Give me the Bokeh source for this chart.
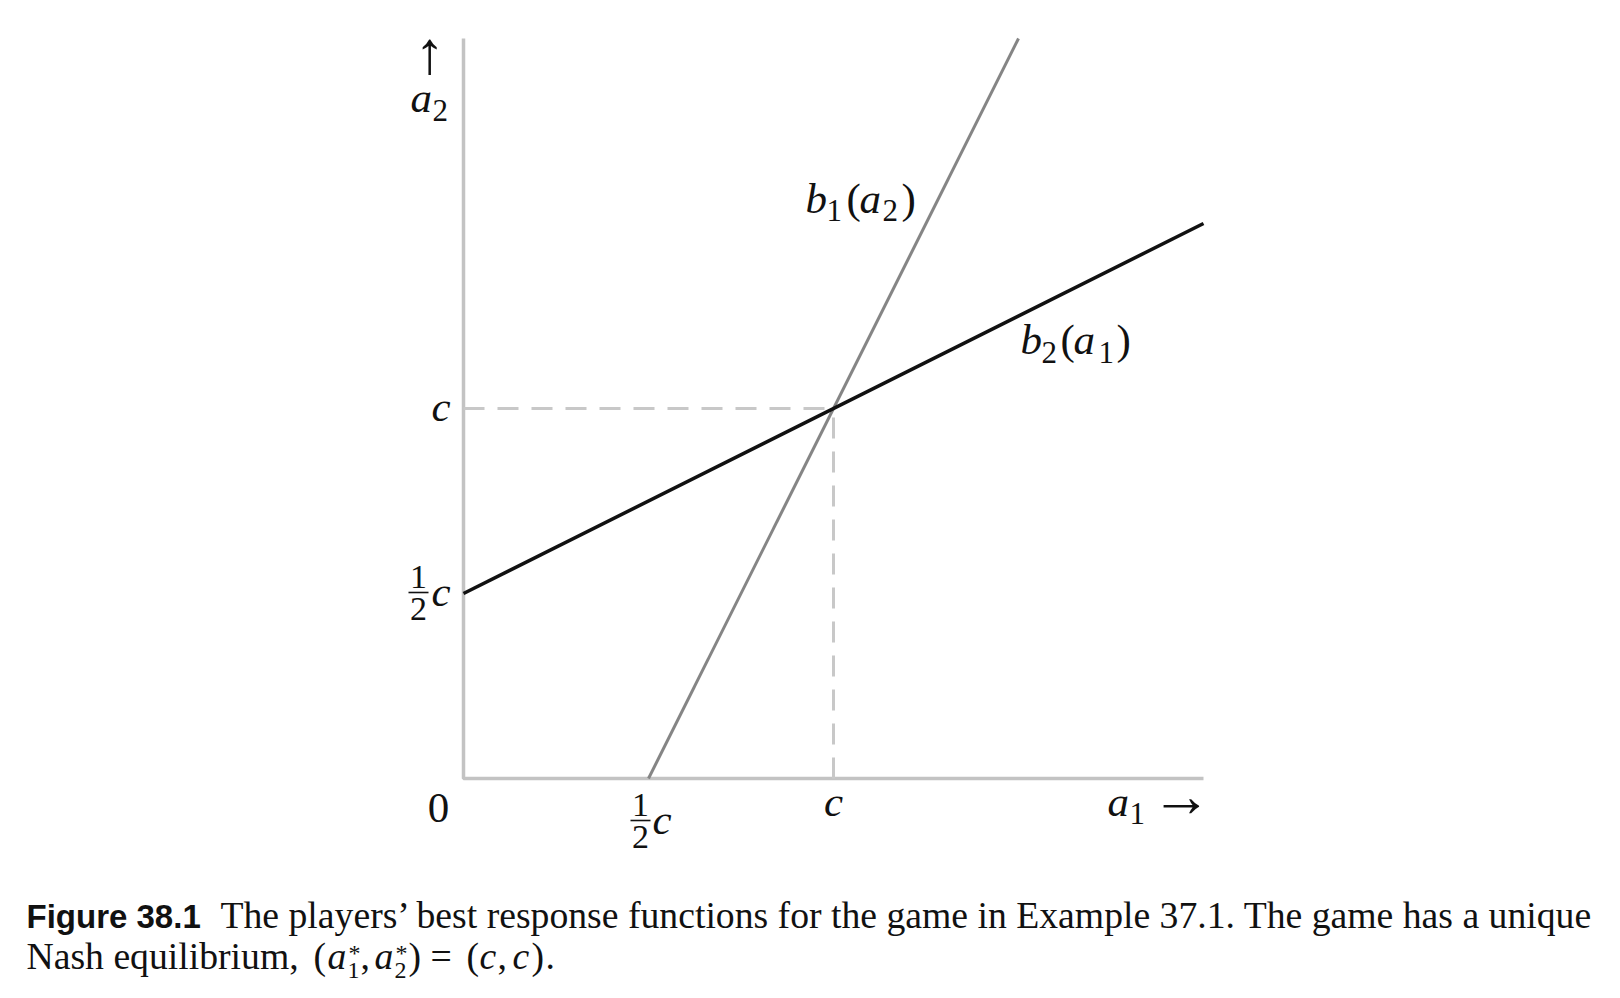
from bokeh.plotting import figure
from bokeh.models import Range1d
from bokeh.core.properties import value
from bokeh.embed import file_html
from bokeh.resources import INLINE

# ---------------- data (in units of c) ----------------
c = 1.0
axis_a1 = [0.0, 0.0, 2.0]          # L-shaped axes: top of a2 axis -> origin -> end of a1 axis
axis_a2 = [2.0, 0.0, 0.0]
b1_a1 = [0.5, 1.5]                 # b1(a2)
b1_a2 = [0.0, 2.0]
b2_a1 = [0.0, 2.0]                 # b2(a1)
b2_a2 = [0.5, 1.5]
nash = (1.0, 1.0)                  # (c, c)

# ---------------- layout helpers (pixels -> data) ----------------
W, H = 1620, 998
OX, OY, S = 463.0, 778.0, 370.0    # origin pixel and pixels per c


def X(px):
    return (px - OX) / S


def Y(py):
    return (OY - py) / S


p = figure(width=W, height=H, x_range=Range1d(X(0), X(W)), y_range=Range1d(Y(H), Y(0)),
           output_backend="svg", toolbar_location=None, title=None, min_border=0)
p.axis.visible = False
p.grid.visible = False
p.outline_line_color = None
p.background_fill_color = "white"
p.border_fill_color = "white"

# axes
p.line(axis_a1, axis_a2, line_color="#c3c3c3", line_width=3.5)
# dashed guides to the equilibrium
p.line([0, nash[0]], [nash[1], nash[1]], line_color="#c8c8c8", line_width=3, line_dash="21 13")
p.line([nash[0], nash[0]], [0, nash[1]], line_color="#c8c8c8", line_width=3, line_dash="21 13")
# best response functions
p.line(b1_a1, b1_a2, line_color="#858585", line_width=3)
p.line(b2_a1, b2_a2, line_color="#111111", line_width=3.5)

SERIF = "Liberation Serif"
SANS = "Liberation Sans"


def txt(s, px, py, size, style="normal", font=SERIF, align="left", baseline="alphabetic", color="#111111"):
    if baseline == "alphabetic":
        py = py - 0.33 * size
    else:
        py = py - 4
    p.text(x=[X(px)], y=[Y(py)], text=[s], text_font=value(font), text_font_size=f"{size}px",
           text_font_style=style, text_align=align, text_baseline=baseline, text_color=color)


def bar(px0, px1, py):
    p.segment(x0=[X(px0)], y0=[Y(py)], x1=[X(px1)], y1=[Y(py)], line_color="#111111", line_width=1.6)


M, SUB, FR = 43, 31, 34

# a2 axis label
txt("\u2191", 429, 56, 60, align="center", baseline="middle")
txt("a", 410, 111, M, "italic")
txt("2", 432, 120, SUB)

# a1 axis label
txt("a", 1107, 815, M, "italic")
txt("1", 1129, 823, SUB)
txt("\u2192", 1181, 799, 60, align="center", baseline="middle")

# x tick labels
txt("0", 438, 822, M, align="center")
B = 820
txt("1", 640, B - 4, FR, align="center")
bar(630, 650, B)
txt("2", 640, B + 28, FR, align="center")
txt("c", 652, B + 13, M, "italic")
txt("c", 833, 815, M, "italic", align="center")

# y tick labels
txt("c", 431, 420, M, "italic")
B = 592
txt("1", 418, B - 4, FR, align="center")
bar(408, 428, B)
txt("2", 418, B + 28, FR, align="center")
txt("c", 431, B + 13, M, "italic")

# curve labels
for s, px, py, size, st in [("b", 805, 212, M, "italic"), ("1", 826, 220, SUB, "normal"),
                            ("(", 846, 212, M, "normal"), ("a", 859, 212, M, "italic"),
                            ("2", 882, 220, SUB, "normal"), (")", 901, 212, M, "normal")]:
    txt(s, px, py, size, st)
for s, px, py, size, st in [("b", 1020, 353, M, "italic"), ("2", 1041, 362, SUB, "normal"),
                            ("(", 1060, 353, M, "normal"), ("a", 1073, 353, M, "italic"),
                            ("1", 1098, 362, SUB, "normal"), (")", 1116, 353, M, "normal")]:
    txt(s, px, py, size, st)

# caption
CF = 37.7
txt("Figure 38.1", 26, 927, 33, "bold", font=SANS)
txt("The players\u2019 best response functions for the game in Example 37.1. The game has a unique",
    220, 927, CF)
txt("Nash equilibrium,", 26, 968, CF)
for s, px, py, size, st in [("(", 313, 968, CF, "normal"), ("a", 327, 968, CF, "italic"),
                            ("*", 348, 960, 24, "normal"), ("1", 347, 978, 24, "normal"),
                            (",", 360, 968, CF, "normal"), ("a", 374, 968, CF, "italic"),
                            ("*", 395, 960, 24, "normal"), ("2", 394, 978, 24, "normal"),
                            (")", 408, 968, CF, "normal"), ("=", 430, 968, CF, "normal"),
                            ("(", 466, 968, CF, "normal"), ("c", 479, 968, CF, "italic"),
                            (",", 497, 968, CF, "normal"), ("c", 512, 968, CF, "italic"),
                            (")", 531, 968, CF, "normal"), (".", 545, 968, CF, "normal")]:
    txt(s, px, py, size, st)

open("out.html", "w").write(file_html(p, INLINE))
